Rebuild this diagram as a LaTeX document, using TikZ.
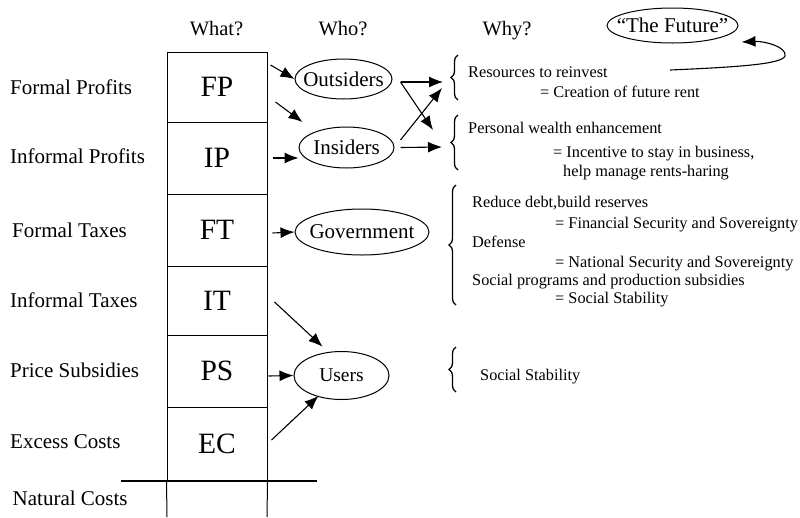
\documentclass[tikz,border=0pt]{standalone}
\usepackage{fontspec}
\setmainfont{Liberation Serif}
\usetikzlibrary{arrows.meta,shapes.geometric,decorations.pathreplacing,calc}
\begin{document}
\begin{tikzpicture}[x=1pt,y=-1pt,
 box/.style={draw,line width=1pt,minimum width=100pt,inner sep=0pt,font=\fontsize{29.5}{32}\selectfont},
 side/.style={anchor=base west,inner sep=0pt,font=\fontsize{21}{24}\selectfont},
 hdr/.style={anchor=base,inner sep=0pt,font=\fontsize{20.5}{24}\selectfont},
 who/.style={draw,ellipse,line width=1pt,inner sep=0pt,font=\fontsize{21}{24}\selectfont},
 why/.style={anchor=base west,inner sep=0pt,font=\fontsize{16.3}{19}\selectfont},
 arr/.style={line width=1.1pt,-{Latex[length=14pt,width=11pt]}},
 br/.style={line width=1.3pt,decorate,decoration={brace,amplitude=7pt}}]
\useasboundingbox (0,0) rectangle (800,517);

% headers
\node[hdr] (hwhat) at (216.5,35) {What?};
\node[hdr] (hwho) at (343,35) {Who?};
\node[hdr] (hwhy) at (507,35) {Why?};

% left labels
\node[side] (l1) at (10,94) {Formal Profits};
\node[side] (l2) at (10,163) {Informal Profits};
\node[side] (l3) at (12,237) {Formal Taxes};
\node[side] (l4) at (10,307) {Informal Taxes};
\node[side] (l5) at (10,377) {Price Subsidies};
\node[side] (l6) at (10,448) {Excess Costs};
\node[side] (l7) at (12.5,505) {Natural Costs};

% column boxes
\node[box,minimum height=70pt] (FP) at (217,87) {FP};
\node[box,minimum height=72pt] (IP) at (217,158) {IP};
\node[box,minimum height=72pt] (FT) at (217,230) {FT};
\node[box,minimum height=69pt] (IT) at (217,300.5) {IT};
\node[box,minimum height=72pt] (PS) at (217,371) {PS};
\node[box,minimum height=74pt] (EC) at (217,444) {EC};
\coordinate (ncl) at (167,517);
\coordinate (ncr) at (267,517);
\draw[line width=1pt] (EC.south west) -- (ncl);
\draw[line width=1pt] (EC.south east) -- (ncr);
\coordinate (tl) at (121,481);
\coordinate (tr) at (317,481);
\draw[line width=2.2pt] (tl) -- (tr);

% who ellipses
\node[who,minimum width=97pt,minimum height=40pt] (Out) at (343.5,79) {\makebox[0pt]{Outsiders}};
\node[who,minimum width=95pt,minimum height=41pt] (In) at (346.5,147.5) {\makebox[0pt]{Insiders}};
\node[who,minimum width=134pt,minimum height=46pt] (Gov) at (362,232) {\makebox[0pt]{Government}};
\node[who,minimum width=95pt,minimum height=48pt,font=\fontsize{19.5}{22}\selectfont] (Us) at (341.5,375.5) {\makebox[0pt]{Users}};
\node[who,minimum width=131pt,minimum height=35pt] (Fut) at (672.5,25.5) {\makebox[0pt]{“The Future”}};

% braces
\coordinate (b1t) at (458,55);  \coordinate (b1b) at (458,100);
\coordinate (b2t) at (458,115); \coordinate (b2b) at (458,170);
\coordinate (b3t) at (456,185); \coordinate (b3b) at (456,305);
\coordinate (b4t) at (456,347); \coordinate (b4b) at (456,392);
\draw[br] (b1b) -- (b1t);
\draw[br] (b2b) -- (b2t);
\draw[br] (b3b) -- (b3t);
\draw[br] (b4b) -- (b4t);
\coordinate (b1) at (449,78);
\coordinate (b2) at (449,145);

% why texts
\node[why] (w1) at (468,77) {Resources to reinvest};
\node[why] (w2) at (540,97) {= Creation of future rent};
\node[why] (w3) at (468,133) {Personal wealth enhancement};
\node[why] (w4) at (553,157) {= Incentive to stay in business,};
\node[why] (w5) at (563,176) {help manage rents-haring};
\node[why] (w6) at (472,207) {Reduce debt,build reserves};
\node[why] (w7) at (555,228) {= Financial Security and Sovereignty};
\node[why] (w8) at (472,247) {Defense};
\node[why] (w9) at (555,267) {= National Security and Sovereignty};
\node[why] (w10) at (472,285) {Social programs and production subsidies};
\node[why] (w11) at (555,303) {= Social Stability};
\node[why] (w12) at (480,380) {Social Stability};

% arrows
\draw[arr] ($(FP.east)+(3,-22)$) -- (Out.west);
\draw[arr] ($(FP.east)+(8,15)$) -- ($(In.west)+(4,-25.5)$);
\draw[arr] ($(IP.east)+(5,0)$) -- (In.west |- IP.east);
\draw[arr] ($(Out.east)+(8,3)$) -- ($(b1)+(-6,4)$);
\draw[arr] ($(Out.east)+(8,3)$) -- ($(b2)+(-16,-15)$);
\draw[arr] ($(In.east)+(6,-7.5)$) -- ($(b1)+(-7,10)$);
\draw[arr] ($(In.east)+(6,0)$) -- ($(b2)+(-7,2)$);
\draw[arr] ($(FT.east)+(5,3)$) -- (Gov.west);
\draw[arr] ($(IT.east)+(7,1.5)$) -- ($(Us.north west)+(15,-11.5)$);
\draw[arr] ($(PS.east)+(1,5)$) -- (Us.west);
\draw[arr] ($(EC.east)+(4,-4)$) -- ($(Us.south west)+(11,3)$);

% future loop
\coordinate (fs) at (670,70);
\draw[arr] (fs) .. controls (740,67) and (782,64) .. (785,56)
  .. controls (787,47) and (765,41) .. ($(Fut.east)+(3,16.5)$);
\end{tikzpicture}
\end{document}
